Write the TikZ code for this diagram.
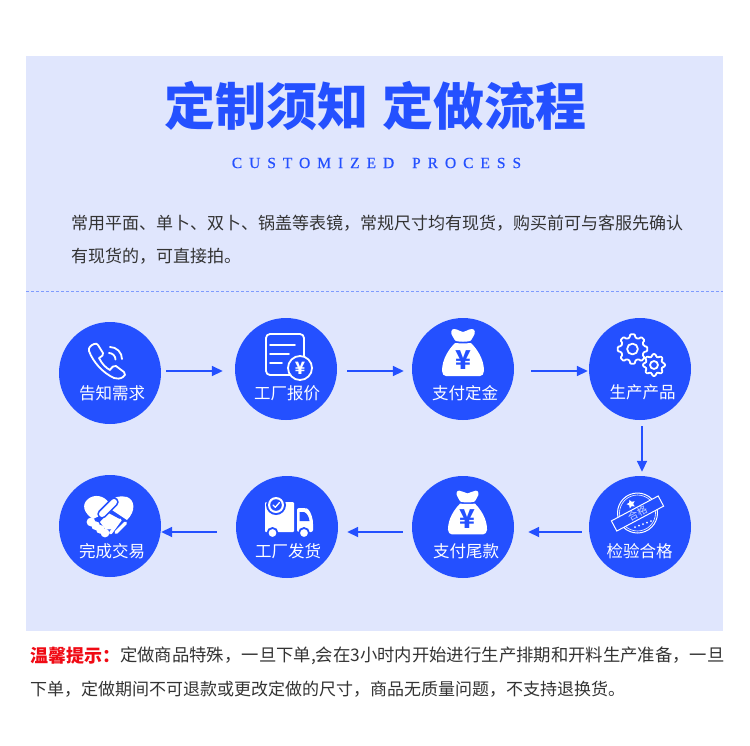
\documentclass[tikz,border=0pt]{standalone}
\usepackage{fontspec}
\setmainfont{Liberation Serif}
\newfontfamily\cjk{Noto Sans CJK SC}
\newfontfamily\latinspaced[LetterSpace=45,FakeBold=0.6]{Liberation Serif}
\usepackage{xcolor}
\definecolor{stepblue}{HTML}{2450FF}
\definecolor{panelbg}{HTML}{E0E6FD}
\definecolor{dashblue}{HTML}{7F9BFF}
\definecolor{noticered}{HTML}{F00A14}
\definecolor{bodygray}{HTML}{333333}
\usetikzlibrary{arrows.meta,positioning,shapes.geometric,calc}

\begin{document}
\begin{tikzpicture}[
  x=1pt, y=-1pt,
  stepnode/.style={circle, fill=stepblue, minimum size=102pt, inner sep=0pt},
  steptext/.style={font=\cjk\fontsize{16.5}{18}\selectfont, text=white, inner sep=0pt},
  bodytext/.style={font=\cjk\fontsize{17}{20}\selectfont, text=bodygray, inner sep=0pt, anchor=west},
  flow/.style={-{Triangle[length=11pt,width=10pt]}, line width=1.7pt, stepblue},
  iconline/.style={draw=white, line width=1.8pt, line join=round, line cap=round},
  yuan/.style={font=\cjk\bfseries\fontsize{26}{26}\selectfont, text=stepblue, inner sep=0pt},
  gearwheel/.pic={
    \draw[iconline, rounded corners=1pt] (-14:0.78)
      foreach \a in {0,45,...,315} {
        -- ({\a-14}:0.78) -- ({\a-9}:1) -- ({\a+9}:1) -- ({\a+14}:0.78)
      } -- cycle;
    \draw[iconline] (0,0) circle (0.36);
  },
  moneybag/.pic={
    \fill[white] (-9,-23) .. controls (-5,-23) and (-3,-20) .. (0,-20)
      .. controls (3,-20) and (5,-23) .. (9,-23)
      .. controls (12,-23) and (13,-19) .. (10,-15)
      .. controls (9,-13) and (8,-11.5) .. (7,-11)
      .. controls (3,-10) and (-3,-10) .. (-7,-11)
      .. controls (-8,-11.5) and (-9,-13) .. (-10,-15)
      .. controls (-13,-19) and (-12,-23) .. (-9,-23) -- cycle;
    \fill[white] (-8,-9) .. controls (-3,-8.5) and (3,-8.5) .. (8,-9)
      .. controls (14,-3) and (21,7) .. (21,19)
      .. controls (21,22) and (19,24) .. (17,24)
      -- (-17,24) .. controls (-19,24) and (-21,22) .. (-21,19)
      .. controls (-21,7) and (-14,-3) .. (-8,-9) -- cycle;
    \node[yuan] (yuanmark) at (0,8) {¥};
  },
]
  \useasboundingbox (0,0) rectangle (750,745);
  \fill[white] (0,0) rectangle (750,745);

  % Panel
  \fill[panelbg] (26,56) rectangle (723,631);
  \draw[dashblue, line width=1pt, dash pattern=on 3pt off 2pt] (26,291) -- (723,291);

  % Heading
  \node[font=\cjk\bfseries\fontsize{51}{55}\selectfont, text=stepblue, inner sep=0pt] (heading) at (375.5,106)
    {定制须知\hspace{15pt}定做流程};
  \node[font=\latinspaced\fontsize{15.5}{18}\selectfont, text=stepblue, inner sep=0pt] (subheading) at (376.5,163)
    {CUSTOMIZED\hspace{7pt} PROCESS};

  % Intro text
  \node[bodytext] (introa) at (71,223) {常用平面、单卜、双卜、锅盖等表镜，常规尺寸均有现货，购买前可与客服先确认};
  \node[bodytext] (introb) at (71,256) {有现货的，可直接拍。};

  % Step circles
  \node[stepnode] (ask) at (110,373) {};
  \node[stepnode] (quote) at (286,369) {};
  \node[stepnode] (deposit) at (463,369) {};
  \node[stepnode] (produce) at (640,369) {};
  \node[stepnode] (inspect) at (640,527) {};
  \node[stepnode] (balance) at (463,527) {};
  \node[stepnode] (ship) at (287,527) {};
  \node[stepnode] (done) at (110,526) {};

  % Step labels
  \node[steptext] (asktext) at (112,393.5) {告知需求};
  \node[steptext] (quotetext) at (287,393.5) {工厂报价};
  \node[steptext] (deposittext) at (465,393) {支付定金};
  \node[steptext] (producetext) at (642.5,392) {生产产品};
  \node[steptext] (inspecttext) at (639.5,551) {检验合格};
  \node[steptext] (balancetext) at (466,551) {支付尾款};
  \node[steptext] (shiptext) at (288,551) {工厂发货};
  \node[steptext] (donetext) at (112,551.5) {完成交易};

  % Arrows
  \draw[flow] ([xshift=5pt,yshift=2pt]ask.east) -- ([xshift=-12pt,yshift=-2pt]quote.west);
  \draw[flow] ([xshift=10pt,yshift=-2pt]quote.east) -- ([xshift=-8pt,yshift=-2pt]deposit.west);
  \draw[flow] ([xshift=17pt,yshift=-2pt]deposit.east) -- ([xshift=-1pt,yshift=-2pt]produce.west);
  \draw[flow] ([xshift=2pt,yshift=-6pt]produce.south) -- ([xshift=2pt,yshift=4pt]inspect.north);
  \draw[flow] ([xshift=-7pt,yshift=-5pt]inspect.west) -- ([xshift=14pt,yshift=-5pt]balance.east);
  \draw[flow] ([xshift=-9pt,yshift=-5pt]balance.west) -- ([xshift=9pt,yshift=-5pt]ship.east);
  \draw[flow] ([xshift=-19pt,yshift=-5pt]ship.west) -- ([xshift=0pt,yshift=-6pt]done.east);

  % Phone icon
  \draw[iconline] (89,351) .. controls (88,348) and (91,345) .. (94,344)
    .. controls (96,343) and (97,344) .. (98,345)
    -- (103,353) .. controls (104,355) and (102,356) .. (99,358)
    .. controls (102,364) and (106,368) .. (110,370)
    .. controls (112,367) and (114,365) .. (116,366)
    -- (124,372) .. controls (126,374) and (125,376) .. (123,377)
    .. controls (120,379) and (117,379) .. (114,378)
    .. controls (103,373) and (93,362) .. (89,351) -- cycle;
  \draw[iconline] (110,347) arc[start angle=-90, end angle=0, radius=12];
  \draw[iconline] (109,353) arc[start angle=-90, end angle=0, radius=6.5];

  % Price sheet icon
  \draw[iconline, rounded corners=4pt] (293,375) -- (266,375) -- (266,334) -- (304,334) -- (304,358);
  \draw[iconline] (270,345) -- (295,345);
  \draw[iconline] (270,354) -- (289,354);
  \draw[iconline] (270,363) -- (282,363);
  \node[circle, draw=white, line width=1.8pt, fill=stepblue, minimum size=24pt, inner sep=0pt,
    font=\cjk\bfseries\fontsize{17}{17}\selectfont, text=white] (pricemark) at (300,368) {¥};

  % Money bags
  \path (463,352) pic {moneybag};
  \path (467.5,512) pic[scale=0.93] {moneybag};

  % Gears
  \path (632.5,349) pic[scale=15] {gearwheel};
  \path (654,365) pic[scale=11] {gearwheel};

  % Stamp icon
  \draw[white, line width=1pt] (637.5,513) circle (20);
  \draw[white, line width=0.6pt] (637.5,513) circle (18);
  \node[star, star points=5, star point ratio=2, fill=white, minimum size=9pt, inner sep=0pt, rotate=20] (stampstar) at (631,504) {};
  \foreach \t in {0,1,...,4} {
    \fill[white] ($(635,527)!\t/4!(651,521)$) circle (1);
  }
  \node[rotate=28, draw=white, fill=stepblue, line width=1pt, minimum width=53pt, minimum height=11.5pt, inner sep=0pt,
    font=\cjk\fontsize{10}{10}\selectfont, text=white!75!stepblue] (stamptext) at (637.5,513.5) {合格};

  % Truck icon
  \fill[white, rounded corners=1pt] (265,502) rectangle (294,532);
  \fill[white, rounded corners=2pt] (297,508) -- (305,508) .. controls (309,509) and (312,515) .. (313,522) -- (313,532) -- (297,532) -- cycle;
  \fill[stepblue] (299.5,512) -- (304,512) .. controls (307,513) and (309,517) .. (309.5,521) -- (299.5,521) -- cycle;
  \draw[stepblue, fill=white, line width=1.8pt] (272.5,533) circle (5);
  \draw[stepblue, fill=white, line width=1.8pt] (304,533) circle (5);
  \fill[stepblue] (276,505) circle (10);
  \fill[white] (276,505) circle (8);
  \fill[stepblue] (276,505) circle (5.8);
  \draw[white, line width=1.3pt, line cap=round, line join=round] (273,505) -- (275.3,507.3) -- (279.5,502.5);

  % Handshake icon
  \fill[white] (109,503) .. controls (104,495) and (94,494) .. (88,499)
    .. controls (81,505) and (84,513) .. (93,519) -- (112,510) -- (127,520)
    .. controls (136,511) and (135,500) .. (127,497)
    .. controls (120,495) and (113,497) .. (109,503) -- cycle;
  % Hands
  \draw[stepblue, line width=1.2pt, fill=white, line join=round] (99,522) -- (108,512) -- (123,520)
    -- (112,530) -- (105,530) -- cycle;
  \draw[white, line width=3.2pt, line cap=round] (125.5,523) -- (116,532.5);
  \draw[white, line width=3.2pt, line cap=round] (120,520) -- (110.5,533);
  \foreach \t in {0,1,2,3} {
    \fill[white] ($(91,522)!\t/3!(105,533)$) circle (4.4);
  }
  \draw[stepblue, line width=9.5pt, line cap=round] (102,514) -- (114,502);
  \draw[white, line width=6pt, line cap=round] (102,514) -- (114,502);

  % Notice
  \node[font=\cjk\bfseries\fontsize{18}{20}\selectfont, text=noticered, inner sep=0pt, anchor=west] (noticehead) at (30,656) {温馨提示：};
  \node[bodytext, font=\cjk\fontsize{17.35}{20}\selectfont] (noticea) at (120,656) {定做商品特殊，一旦下单,会在3小时内开始进行生产排期和开料生产准备，一旦};
  \node[bodytext] (noticeb) at (30,689) {下单，定做期间不可退款或更改定做的尺寸，商品无质量问题，不支持退换货。};
\end{tikzpicture}
\end{document}
